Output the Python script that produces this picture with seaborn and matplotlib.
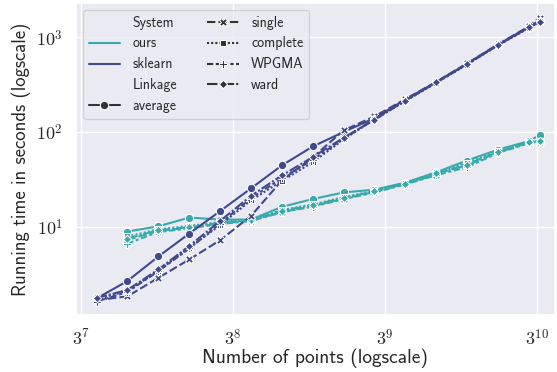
import pandas as pd
import numpy as np
import matplotlib
matplotlib.use('Agg')
import matplotlib.pyplot as plt
import seaborn as sns
from matplotlib.ticker import FuncFormatter, NullFormatter

# Number of points (x axis)
n_points = [2450, 3060, 3830, 4790, 5980, 7480, 9350, 11690, 14610, 18260,
            22830, 28530, 35670, 44580, 55730, 60500]

linkages = ['average', 'single', 'complete', 'WPGMA', 'ward']

# sklearn running times (seconds), one value per entry of n_points
sk_average = [1.75, 2.67, 4.86, 8.48, 14.6, 25.4, 44.4, 70.3, 100, 140, 220, 336, 525, 835, 1280, 1520]
sk_single = [1.68, 1.84, 2.89, 4.52, 7.2, 13.0, 30.8, 54.0, 104, 146, 222, 338, 530, 840, 1300, 1616]
sk_complete = [1.72, 2.10, 3.45, 6.0, 10.4, 19.0, 30.4, 48.0, 83.4, 136, 212, 330, 515, 820, 1250, 1480]
sk_wpgma = [1.62, 2.05, 3.40, 5.9, 10.8, 20.0, 32.5, 51.0, 85.0, 138, 214, 332, 518, 825, 1260, 1500]
sk_ward = [1.77, 2.15, 3.54, 6.28, 11.5, 21.2, 34.8, 54.3, 87.0, 134, 215, 334, 522, 828, 1268, 1456]

# our running times (seconds), no run for the smallest size
ours_average = [8.9, 10.1, 12.5, 11.9, 11.9, 16.2, 19.6, 23.0, 24.6, 29.2, 37.5, 50.0, 65.0, 80.0, 93.0]
ours_single = [7.3, 9.0, 9.8, 10.8, 11.6, 14.3, 16.5, 19.8, 23.3, 28.2, 35.5, 46.0, 61.0, 77.0, 79.0]
ours_complete = [7.9, 9.4, 10.2, 11.2, 11.9, 15.0, 17.2, 20.5, 24.0, 29.0, 37.5, 47.5, 63.0, 79.0, 80.0]
ours_wpgma = [6.65, 8.8, 9.6, 10.7, 11.5, 14.2, 16.3, 19.5, 23.0, 28.0, 35.0, 42.5, 60.0, 76.0, 78.0]
ours_ward = [7.5, 9.2, 9.9, 11.0, 11.8, 14.8, 16.9, 20.2, 23.6, 28.5, 36.5, 44.4, 61.3, 78.0, 80.0]

ours = {'average': ours_average, 'single': ours_single, 'complete': ours_complete,
        'WPGMA': ours_wpgma, 'ward': ours_ward}
sklearn = {'average': sk_average, 'single': sk_single, 'complete': sk_complete,
           'WPGMA': sk_wpgma, 'ward': sk_ward}

# long-form table for seaborn
rows = []
for link in linkages:
    for n, t in zip(n_points[1:], ours[link]):
        rows.append({'n': n, 'time': t, 'System': 'ours', 'Linkage': link})
for link in linkages:
    for n, t in zip(n_points, sklearn[link]):
        rows.append({'n': n, 'time': t, 'System': 'sklearn', 'Linkage': link})
df = pd.DataFrame(rows)

sns.set_theme(style='darkgrid')
plt.rcParams['font.family'] = ['cmss10', 'DejaVu Sans']
plt.rcParams['mathtext.fontset'] = 'cm'
plt.rcParams['axes.unicode_minus'] = False

fig = plt.figure(figsize=(5.57, 3.72), dpi=100)
ax = fig.add_axes([76 / 557, 1 - 315 / 372, (555 - 76) / 557, (315 - 3) / 372])

sns.lineplot(data=df, x='n', y='time', hue='System', style='Linkage',
             markers=True, palette=sns.color_palette('mako_r', 2), ax=ax)

ax.set_xscale('log', base=3)
ax.set_yscale('log')
ax.set_xlim(2110, 67400)
ax.set_ylim(1.17, 2300)
ax.xaxis.set_major_formatter(FuncFormatter(lambda v, p: r'$3^{%d}$' % round(np.log(v) / np.log(3))))
ax.yaxis.set_major_formatter(FuncFormatter(lambda v, p: r'$10^{%d}$' % round(np.log10(v))))
ax.xaxis.set_minor_formatter(NullFormatter())
ax.yaxis.set_minor_formatter(NullFormatter())
ax.tick_params(axis='both', labelsize=13)

ax.set_xlabel('Number of points (logscale)', fontsize=14, labelpad=0)
ax.set_ylabel('Running time in seconds (logscale)', fontsize=13.5)

sns.move_legend(ax, 'upper left', ncol=2, title=None, fontsize=10,
                columnspacing=2.2, handlelength=2.3, handletextpad=0.85)

plt.savefig('out.png', dpi=100)
